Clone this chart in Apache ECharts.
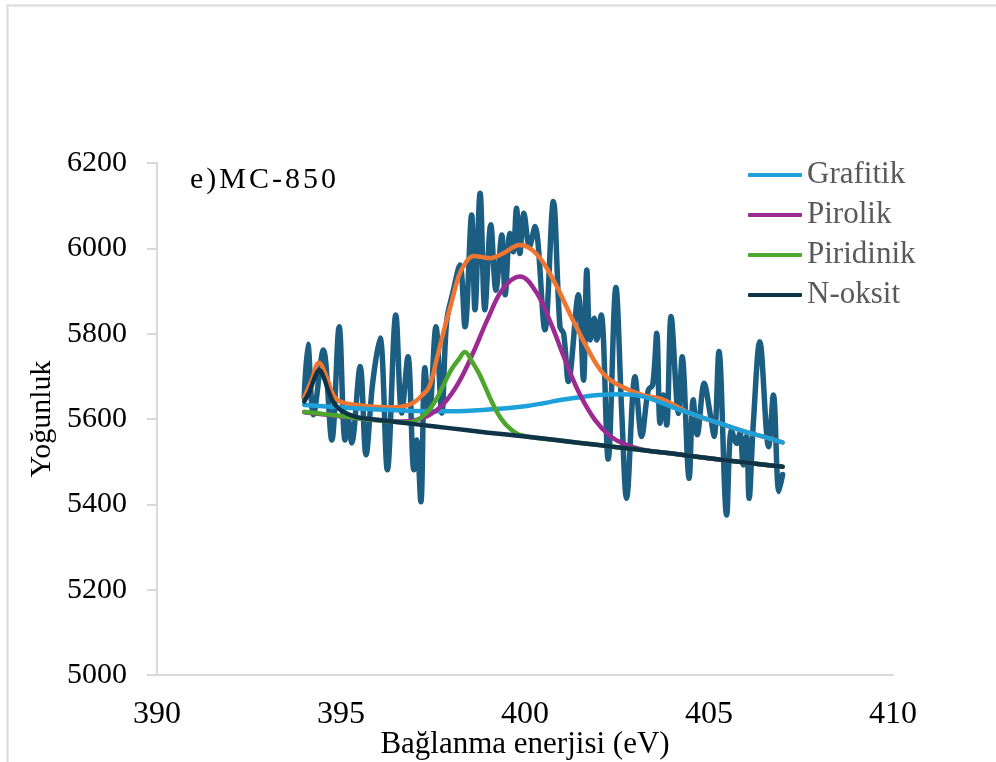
<!DOCTYPE html>
<html>
<head>
<meta charset="utf-8">
<script src="https://cdn.jsdelivr.net/npm/echarts@6/dist/echarts.min.js"></script>
<style>
  html, body { margin: 0; padding: 0; background: #fff; }
  #chart { width: 996px; height: 762px; }
</style>
</head>
<body>
<div id="chart"></div>
<script>
// ölçülen veri (eV, sayım)
const rawEnergy = [394.00, 394.10, 394.25, 394.52, 394.75, 394.95, 395.11, 395.20, 395.29, 395.52, 395.68, 395.86,
  396.06, 396.26, 396.49, 396.65, 396.82, 396.98, 397.06, 397.17, 397.28, 397.40, 397.58, 397.74, 397.87, 398.05,
  398.23, 398.37, 398.55, 398.64, 398.78, 398.91, 399.07, 399.21, 399.37, 399.46, 399.59, 399.68, 399.77, 399.86,
  399.97, 400.12, 400.27, 400.54, 400.77, 400.95, 401.05, 401.18, 401.45, 401.59, 401.68, 401.77, 401.88, 401.95,
  402.07, 402.26, 402.47, 402.63, 402.76, 402.99, 403.17, 403.35, 403.47, 403.58, 403.67, 403.76, 403.85, 403.97,
  404.17, 404.27, 404.46, 404.57, 404.68, 404.87, 405.03, 405.14, 405.27, 405.48, 405.61, 405.75, 405.84, 405.93,
  406.02, 406.09, 406.20, 406.38, 406.62, 406.75, 406.90, 407.00]
const rawCounts = [5650, 5775, 5610, 5762, 5551, 5816, 5551, 5598, 5544, 5723, 5516, 5684,
  5790, 5481, 5844, 5614, 5746, 5481, 5551, 5406, 5720, 5614, 5816, 5614, 5828, 5900,
  5961, 5816, 6078, 5856, 6129, 5856, 6055, 5902, 6031, 5891, 6035, 5992, 6094, 5988,
  6082, 6004, 6051, 5809, 6110, 5816, 5800, 5688, 5891, 5691, 5949, 5785, 5836, 5785,
  5844, 5506, 5908, 5613, 5414, 5699, 5559, 5668, 5680, 5801, 5590, 5656, 5586, 5840,
  5613, 5746, 5461, 5645, 5563, 5684, 5613, 5559, 5758, 5375, 5574, 5543, 5567, 5492,
  5559, 5414, 5583, 5781, 5535, 5656, 5430, 5470]

// zarf (toplam fit)
const envEnergy = [394.0, 394.2, 394.4, 394.6, 394.8, 395.0, 395.4, 396.0, 396.4, 396.8, 397.0, 397.2, 397.4, 397.6,
  397.8, 398.0, 398.2, 398.4, 398.6, 398.8, 399.05, 399.4, 399.86, 400.3, 400.77, 401.3, 401.86, 402.2, 402.58,
  403.2, 403.7, 404.2, 404.5, 405.0, 405.5, 406.0, 406.5, 407.0]
const envValues = [5651, 5690, 5732, 5700, 5655, 5640, 5633, 5628, 5627, 5632, 5640, 5655, 5676, 5740,
  5809, 5872, 5935, 5968, 5982, 5980, 5977, 5988, 6008, 5988, 5926, 5832, 5740, 5700, 5678,
  5656, 5647, 5626, 5613, 5598, 5584, 5570, 5558, 5545]

// Grafitik
const grafEnergy = [394.0, 394.5, 395.0, 396.0, 397.0, 398.0, 399.0, 400.0, 400.5, 401.0, 401.5, 402.0, 402.6, 403.0,
  403.5, 404.0, 404.5, 405.0, 405.5, 406.0, 406.5, 407.0]
const grafValues = [5633, 5630, 5627, 5622, 5619, 5618, 5622, 5630, 5637, 5645, 5651, 5656, 5658, 5656,
  5645, 5628, 5613, 5598, 5584, 5570, 5558, 5545]

// Pirolik
const pirolEnergy = [394.0, 395.0, 396.0, 396.6, 397.0, 397.4, 397.8, 398.2, 398.6, 399.0, 399.4, 399.86, 400.3,
  400.7, 401.1, 401.5, 401.9, 402.3, 402.7, 403.2, 404.0, 405.0, 406.0, 407.0]
const pirolValues = [5616, 5606, 5597, 5594, 5597, 5609, 5637, 5686, 5757, 5837, 5905, 5934, 5898,
  5825, 5736, 5656, 5598, 5561, 5541, 5528, 5519, 5508, 5498, 5488]

// Piridinik
const piriEnergy = [394.0, 395.0, 396.0, 396.8, 397.1, 397.4, 397.6, 397.8, 398.0, 398.2, 398.37, 398.55, 398.75,
  398.95, 399.15, 399.35, 399.6, 399.9, 401.0, 402.0, 403.0, 404.0, 405.0, 406.0, 407.0]
const piriValues = [5617, 5607, 5597, 5592, 5599, 5622, 5648, 5682, 5716, 5740, 5757, 5736, 5707,
  5669, 5631, 5601, 5577, 5562, 5549, 5539, 5529, 5519, 5508, 5498, 5488]

// N-oksit
const noxEnergy = [394.0, 394.15, 394.3, 394.41, 394.52, 394.65, 394.8, 395.0, 395.4, 396.0, 397.0, 398.0, 399.0,
  400.0, 401.0, 402.0, 403.0, 404.0, 405.0, 406.0, 407.0]
const noxValues = [5641, 5665, 5700, 5715, 5700, 5668, 5638, 5620, 5605, 5598, 5588, 5578, 5568,
  5559, 5549, 5539, 5529, 5519, 5508, 5498, 5488]

const xTicks = [390, 410, 5]
const yTicks = [5000, 6200, 200]
const sampleLabel = 'e)MC-850'

function pairs(xs, ys) {
  return xs.map((x, i) => [x, ys[i]])
}

const serifFont = 'Liberation Serif'
const chart = echarts.init(document.getElementById('chart'))

function fitLine(name, xs, ys, color, smooth) {
  return {
    name: name,
    type: 'line',
    data: pairs(xs, ys),
    smooth: smooth,
    showSymbol: false,
    symbol: 'none',
    lineStyle: { color: color, width: 4.5, cap: 'round', join: 'round' },
    itemStyle: { color: color },
    silent: true
  }
}

// harf aralıklı etiket (her harf ayrı rich parçası)
const spacedLabel = sampleLabel.split('').map(ch => '{c|' + ch + '}').join('')

const option = {
  animation: false,
  backgroundColor: '#fff',
  grid: { left: 157, right: 103, top: 163, bottom: 87, containLabel: false, outerBoundsMode: 'none' },
  graphic: [
    {
      type: 'rect',
      left: 5, top: 3,
      shape: { width: 1010, height: 800 },
      style: { fill: 'none', stroke: '#d9d9d9', lineWidth: 2 },
      silent: true
    },
    {
      type: 'text',
      left: 190, top: 165,
      style: {
        text: spacedLabel,
        rich: { c: { fontFamily: serifFont, fontSize: 30, color: '#000', padding: [0, 3, 0, 0] } }
      }
    }
  ],
  legend: {
    data: ['Grafitik', 'Pirolik', 'Piridinik', 'N-oksit'],
    orient: 'vertical',
    left: 748, top: 159,
    padding: 0,
    icon: 'roundRect',
    itemWidth: 54, itemHeight: 4,
    itemGap: 8,
    textStyle: { fontFamily: serifFont, fontSize: 31, color: '#595959', lineHeight: 32 }
  },
  xAxis: {
    type: 'value',
    min: xTicks[0], max: xTicks[1], interval: xTicks[2],
    name: 'Bağlanma enerjisi (eV)',
    nameLocation: 'middle',
    nameGap: 54,
    nameMoveOverlap: false,
    nameTextStyle: { fontFamily: serifFont, fontSize: 31, color: '#000' },
    axisLine: { lineStyle: { color: '#d9d9d9', width: 2 } },
    axisTick: { show: false },
    splitLine: { show: false },
    axisLabel: { fontFamily: serifFont, fontSize: 32, color: '#000', margin: 24 }
  },
  yAxis: {
    type: 'value',
    min: yTicks[0], max: yTicks[1], interval: yTicks[2],
    name: 'Yoğunluk',
    nameLocation: 'middle',
    nameGap: 100,
    nameMoveOverlap: false,
    nameTextStyle: { fontFamily: serifFont, fontSize: 30, color: '#000' },
    axisLine: { show: true, lineStyle: { color: '#d9d9d9', width: 2 } },
    axisTick: { show: true, length: 10, lineStyle: { color: '#d9d9d9', width: 2 } },
    splitLine: { show: false },
    axisLabel: {
      fontFamily: serifFont, fontSize: 30, color: '#000', margin: 30,
      formatter: v => String(v)
    }
  },
  series: [
    {
      name: 'Ölçülen',
      type: 'line',
      data: pairs(rawEnergy, rawCounts),
      smooth: 0.35,
      showSymbol: false,
      symbol: 'none',
      lineStyle: { color: '#1b5e82', width: 5.5, cap: 'round', join: 'round' },
      silent: true
    },
    fitLine('Zarf', envEnergy, envValues, '#ee7630', 0.4),
    fitLine('Grafitik', grafEnergy, grafValues, '#1ea0db', 0.4),
    fitLine('Pirolik', pirolEnergy, pirolValues, '#9c2a93', 0.4),
    fitLine('Piridinik', piriEnergy, piriValues, '#4da72c', 0.4),
    fitLine('N-oksit', noxEnergy, noxValues, '#0f3449', 0.4)
  ]
}

chart.setOption(option)
</script>
</body>
</html>
